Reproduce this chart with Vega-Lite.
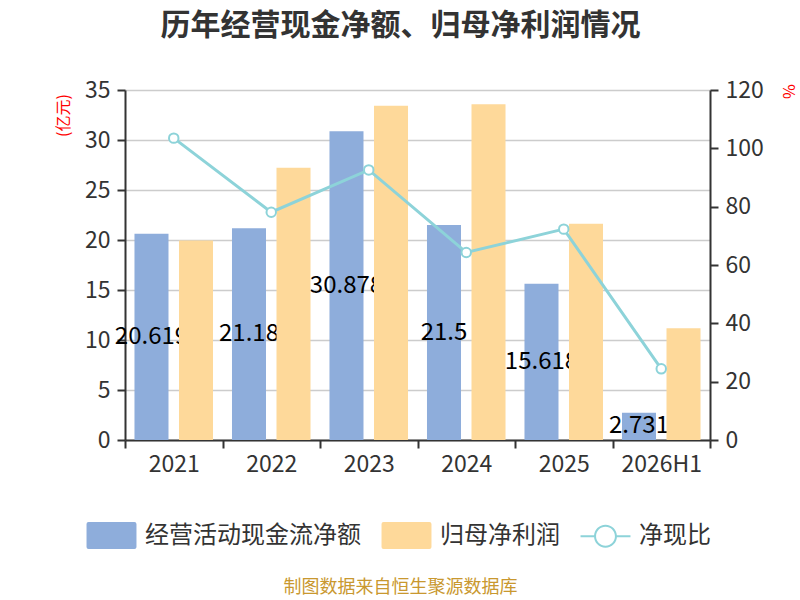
{
  "$schema": "https://vega.github.io/schema/vega-lite/v6.json",
  "width": 585,
  "height": 350,
  "autosize": "none",
  "padding": {"left": 125, "top": 90, "right": 90, "bottom": 160},
  "background": "white",
  "title": {
    "text": "历年经营现金净额、归母净利润情况",
    "font": "Noto Sans CJK SC",
    "fontSize": 30,
    "fontWeight": "bold",
    "color": "#333333",
    "anchor": "middle",
    "dx": -17,
    "offset": 38
  },
  "datasets": {
    "bars": [
      {"year": "2021", "type": "经营活动现金流净额", "value": 20.619},
      {"year": "2021", "type": "归母净利润", "value": 19.95},
      {"year": "2022", "type": "经营活动现金流净额", "value": 21.18},
      {"year": "2022", "type": "归母净利润", "value": 27.23},
      {"year": "2023", "type": "经营活动现金流净额", "value": 30.878},
      {"year": "2023", "type": "归母净利润", "value": 33.43},
      {"year": "2024", "type": "经营活动现金流净额", "value": 21.5},
      {"year": "2024", "type": "归母净利润", "value": 33.57},
      {"year": "2025", "type": "经营活动现金流净额", "value": 15.618},
      {"year": "2025", "type": "归母净利润", "value": 21.63},
      {"year": "2026H1", "type": "经营活动现金流净额", "value": 2.731},
      {"year": "2026H1", "type": "归母净利润", "value": 11.17}
    ],
    "ratio": [
      {"year": "2021", "ratio": 103.5},
      {"year": "2022", "ratio": 78.1},
      {"year": "2023", "ratio": 92.6},
      {"year": "2024", "ratio": 64.3},
      {"year": "2025", "ratio": 72.3},
      {"year": "2026H1", "ratio": 24.4}
    ]
  },
  "encoding": {
    "x": {
      "field": "year",
      "type": "nominal",
      "sort": null,
      "scale": {"paddingInner": 0, "paddingOuter": 0},
      "axis": {
        "labelAngle": 0,
        "tickBand": "extent",
        "labelPadding": 5,
        "title": "制图数据来自恒生聚源数据库",
        "titleFont": "Noto Sans CJK SC",
        "titleFontSize": 18,
        "titleFontWeight": "normal",
        "titleColor": "#c9982f",
        "titleX": 275,
        "titleY": 147,
        "titleAlign": "center",
        "titleBaseline": "middle"
      }
    }
  },
  "layer": [
    {
      "encoding": {
        "y": {
          "field": "value",
          "type": "quantitative",
          "scale": {"domain": [0, 35], "nice": false},
          "axis": {
            "values": [0, 5, 10, 15, 20, 25, 30, 35],
            "grid": true,
            "gridColor": "#cccccc",
            "gridWidth": 1.5,
            "labelPadding": 7,
            "title": "(亿元)",
            "titleFont": "Noto Sans CJK SC",
            "titleFontSize": 16,
            "titleFontWeight": "normal",
            "titleColor": "#ff0000",
            "titleAngle": -90,
            "titleX": -62,
            "titleY": 25,
            "titleAlign": "center",
            "titleBaseline": "middle"
          }
        }
      },
      "layer": [
        {
          "data": {"name": "bars"},
          "transform": [{"filter": "datum.type === '经营活动现金流净额'"}],
          "mark": {"type": "bar"},
          "encoding": {
            "xOffset": {
              "field": "type",
              "type": "nominal",
              "sort": null,
              "scale": {"domain": ["经营活动现金流净额", "归母净利润"], "paddingInner": 0.236, "paddingOuter": 0.213}
            },
            "color": {
              "field": "type",
              "type": "nominal",
              "scale": {
                "domain": ["经营活动现金流净额", "归母净利润", "净现比"],
                "range": ["#8eaddb", "#fed99a", "#8dd3d9"]
              },
              "legend": {
                "orient": "none",
                "legendX": -27,
                "legendY": 432,
                "direction": "horizontal",
                "title": null,
                "padding": 0,
                "labelFont": "Noto Sans CJK SC",
                "labelFontSize": 24,
                "labelColor": "#333333",
                "labelLimit": 300,
                "labelOffset": 20,
                "columnPadding": 20,
                "symbolSize": 729,
                "encode": {
                  "symbols": {
                    "update": {
                      "shape": {"signal": "datum.value === '净现比' ? 'M-1.85,-0.075H-0.8V0.075H-1.85Z M0.8,-0.075H1.85V0.075H0.8Z M-0.85,0A0.85,0.85 0 1,1 0.85,0A0.85,0.85 0 1,1 -0.85,0Z M-0.7,0A0.7,0.7 0 1,0 0.7,0A0.7,0.7 0 1,0 -0.7,0Z' : 'M-1.7,-1H1.7Q1.85,-1 1.85,-0.85V0.85Q1.85,1 1.7,1H-1.7Q-1.85,1 -1.85,0.85V-0.85Q-1.85,-1 -1.7,-1Z'"},
                      "fill": {"signal": "datum.value === '经营活动现金流净额' ? '#8eaddb' : datum.value === '归母净利润' ? '#fed99a' : '#8dd3d9'"},
                      "stroke": {"value": "transparent"},
                      "strokeWidth": {"value": 0},
                      "opacity": {"value": 1},
                      "fillOpacity": {"value": 1}
                    }
                  }
                }
              }
            }
          }
        },
        {
          "data": {"name": "bars"},
          "transform": [{"filter": "datum.type === '经营活动现金流净额'"}],
          "mark": {"type": "text", "font": "Noto Sans CJK SC", "fontSize": 24, "color": "#000000", "baseline": "middle"},
          "encoding": {
            "xOffset": {
              "field": "type",
              "type": "nominal",
              "sort": null,
              "scale": {"domain": ["经营活动现金流净额", "归母净利润"], "paddingInner": 0.236, "paddingOuter": 0.213}
            },
            "y": {
              "field": "value",
              "type": "quantitative",
              "stack": "zero",
              "bandPosition": 0.5,
              "scale": {"domain": [0, 35], "nice": false},
              "axis": {
                "values": [0, 5, 10, 15, 20, 25, 30, 35],
                "grid": true,
                "gridColor": "#cccccc",
                "gridWidth": 1.5,
                "labelPadding": 7,
                "title": "(亿元)",
                "titleFont": "Noto Sans CJK SC",
                "titleFontSize": 16,
                "titleFontWeight": "normal",
                "titleColor": "#ff0000",
                "titleAngle": -90,
                "titleX": -62,
                "titleY": 25,
                "titleAlign": "center",
                "titleBaseline": "middle"
              }
            },
            "text": {"field": "value", "type": "nominal"}
          }
        },
        {
          "data": {"name": "bars"},
          "transform": [{"filter": "datum.type === '归母净利润'"}],
          "mark": {"type": "bar"},
          "encoding": {
            "xOffset": {
              "field": "type",
              "type": "nominal",
              "sort": null,
              "scale": {"domain": ["经营活动现金流净额", "归母净利润"], "paddingInner": 0.236, "paddingOuter": 0.213}
            },
            "color": {"field": "type", "type": "nominal"}
          }
        }
      ]
    },
    {
      "data": {"name": "ratio"},
      "mark": {
        "type": "line",
        "strokeWidth": 3,
        "point": {"filled": false, "fill": "white", "size": 90, "strokeWidth": 2}
      },
      "encoding": {
        "y": {
          "field": "ratio",
          "type": "quantitative",
          "scale": {"domain": [0, 120], "nice": false},
          "axis": {
            "orient": "right",
            "values": [0, 20, 40, 60, 80, 100, 120],
            "grid": false,
            "labelPadding": 7,
            "title": "%",
            "titleFont": "Noto Sans CJK SC",
            "titleFontSize": 16,
            "titleFontWeight": "normal",
            "titleColor": "#ff0000",
            "titleAngle": 90,
            "titleX": 77,
            "titleY": 1,
            "titleAlign": "center",
            "titleBaseline": "middle"
          }
        },
        "color": {"datum": "净现比"}
      }
    }
  ],
  "resolve": {"scale": {"y": "independent"}},
  "config": {
    "view": {"stroke": null},
    "font": "Noto Sans CJK SC",
    "axis": {
      "labelFont": "Noto Sans CJK SC",
      "labelFontSize": 23,
      "labelColor": "#333333",
      "domainColor": "#333333",
      "domainWidth": 2,
      "tickColor": "#333333",
      "tickWidth": 2,
      "tickSize": 8,
      "grid": false
    }
  }
}
